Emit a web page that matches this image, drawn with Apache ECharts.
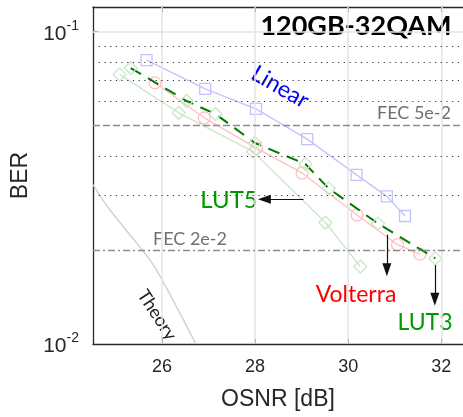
<!DOCTYPE html>
<html>
<head>
<meta charset="utf-8">
<script src="https://cdn.jsdelivr.net/npm/echarts@6.0.0/dist/echarts.min.js"></script>
<style>
html, body { margin: 0; padding: 0; background: #fff; }
#chart { width: 463px; height: 417px; }
</style>
</head>
<body>
<div id="chart"></div>
<script>
// OSNR [dB] and BER
const osnrLinear = [25.67, 26.93, 28.02, 29.12, 30.18, 30.83, 31.22];
const berLinear = [0.0811, 0.0656, 0.0566, 0.0453, 0.0348, 0.0297, 0.0257];

const osnrVolterra = [25.85, 26.91, 28.03, 29.01, 30.19, 31.06, 31.54];
const berVolterra = [0.0686, 0.0530, 0.0424, 0.0353, 0.0259, 0.0208, 0.0194];

const osnrLut5 = [25.09, 26.36, 27.96, 29.51, 30.26];
const berLut5 = [0.0730, 0.0550, 0.0413, 0.0245, 0.0177];

const osnrLut3 = [25.33, 26.53, 27.15, 28.00, 29.08, 29.58, 30.64, 31.87];
const berLut3 = [0.0765, 0.0600, 0.0545, 0.0440, 0.0377, 0.0315, 0.0243, 0.0188];

const osnrTheory = [24.52, 24.88, 25.58, 25.88, 26.73];
const berTheory = [0.0324, 0.0269, 0.0200, 0.0173, 0.0100];

// FEC thresholds and dotted grid values
const fecLimits = [0.05, 0.02];
const dottedGrid = [0.03, 0.04, 0.06, 0.07, 0.08, 0.09];
const xTicks = [26, 28, 30, 32];
const yTicks = [0.01, 0.1];

// annotation arrows [from, to] in data units
const arrowLut5 = [[29.04, 0.0291], [28.20, 0.0291]];
const arrowVolterra = [[30.83, 0.0224], [30.83, 0.0173]];
const arrowLut3 = [[31.86, 0.0179], [31.86, 0.0139]];

function pairs(xs, ys) {
  return xs.map((x, i) => [x, ys[i]]);
}

const axisColor = '#262626';
const labelFont = 'Lato';

let myChart = echarts.init(document.getElementById('chart'));

function lightSeries(name, xs, ys, color, symbol, size) {
  return {
    name: name,
    type: 'line',
    data: pairs(xs, ys),
    symbol: symbol,
    symbolSize: size,
    lineStyle: { color: color, width: 1.3 },
    itemStyle: { color: 'rgba(0,0,0,0)', borderColor: color, borderWidth: 1.3 },
    z: 3
  };
}

function arrow(a) {
  return [{ coord: a[0], symbol: 'none' }, { coord: a[1], symbol: 'triangle', symbolSize: [9, 13] }];
}

let option = {
  animation: false,
  backgroundColor: '#fff',
  grid: { left: 93, top: 7, width: 375, height: 337 },
  xAxis: [{
    type: 'value',
    min: 24.52,
    max: 32.465,
    name: 'OSNR [dB]',
    nameLocation: 'middle',
    nameGap: 44,
    nameTextStyle: { fontFamily: 'Liberation Sans', fontSize: 23, color: axisColor },
    axisLine: { lineStyle: { color: axisColor, width: 1.3 } },
    axisTick: { inside: true, length: 5, customValues: xTicks, lineStyle: { color: axisColor } },
    axisLabel: { customValues: xTicks, margin: 14, fontFamily: 'Liberation Sans', fontSize: 18, color: axisColor },
    splitLine: { show: false }
  }, {
    type: 'value',
    position: 'top',
    min: 24.52,
    max: 32.465,
    axisLine: { show: true, lineStyle: { color: axisColor, width: 1.3 } },
    axisTick: { show: true, inside: true, length: 5, customValues: xTicks, lineStyle: { color: axisColor } },
    axisLabel: { show: false },
    splitLine: { show: false }
  }],
  yAxis: {
    type: 'log',
    logBase: 10,
    min: 0.01,
    max: 0.12,
    name: 'BER',
    nameLocation: 'middle',
    nameGap: 57,
    nameTextStyle: { fontFamily: 'Liberation Sans', fontSize: 23, color: axisColor },
    axisLine: { show: true, lineStyle: { color: axisColor, width: 1.3 } },
    axisTick: { inside: true, length: 5, customValues: yTicks, lineStyle: { color: axisColor } },
    axisLabel: {
      customValues: yTicks,
      margin: 14,
      formatter: function (v) {
        return '{b|10}{s|' + Math.round(Math.log10(v)) + '}';
      },
      rich: {
        b: { fontFamily: 'Liberation Sans', fontSize: 21, color: axisColor, lineHeight: 26, verticalAlign: 'bottom' },
        s: { fontFamily: 'Liberation Sans', fontSize: 14, color: axisColor, lineHeight: 26, verticalAlign: 'top' }
      }
    },
    splitLine: { show: false }
  },
  series: [
    {
      // grid lines and thresholds
      name: 'grid',
      type: 'line',
      data: [],
      silent: true,
      z: 1,
      markLine: {
        silent: true,
        symbol: 'none',
        label: { show: false },
        data: [
          ...xTicks.map(v => ({ xAxis: v, lineStyle: { color: '#e4e4e4', width: 1.5, type: 'solid' } })),
          { yAxis: 0.1, lineStyle: { color: '#e4e4e4', width: 1.5, type: 'solid' } },
          ...dottedGrid.map(v => ({ yAxis: v, lineStyle: { color: '#333', width: 1, type: [1.2, 4.5] } })),
          { yAxis: fecLimits[0], lineStyle: { color: '#8c8c8c', width: 1.3, type: [7, 3] } },
          { yAxis: fecLimits[1], lineStyle: { color: '#8c8c8c', width: 1.3, type: [7, 3, 2, 3] } }
        ]
      }
    },
    {
      name: 'Theory',
      type: 'line',
      data: pairs(osnrTheory, berTheory),
      smooth: 0.3,
      showSymbol: false,
      lineStyle: { color: '#d3d3d3', width: 1.5 },
      z: 2
    },
    lightSeries('Linear', osnrLinear, berLinear, '#c3c3fb', 'rect', 11),
    lightSeries('Volterra', osnrVolterra, berVolterra, '#ffc0c0', 'circle', 12),
    lightSeries('LUT5', osnrLut5, berLut5, '#c9e6c9', 'diamond', 13),
    {
      name: 'LUT3',
      type: 'line',
      data: pairs(osnrLut3, berLut3),
      symbol: 'diamond',
      symbolSize: 13,
      lineStyle: { color: '#007a00', width: 2, type: [12, 8] },
      itemStyle: { color: 'rgba(0,0,0,0)', borderColor: '#c9e6c9', borderWidth: 1.3 },
      z: 4,
      markLine: {
        silent: true,
        symbol: ['none', 'triangle'],
        symbolSize: 12,
        symbolKeepAspect: true,
        label: { show: false },
        lineStyle: { color: '#111', width: 1.2, type: 'solid' },
        itemStyle: { color: '#111' },
        data: [arrow(arrowLut5), arrow(arrowVolterra), arrow(arrowLut3)]
      }
    }
  ],
  graphic: [
    { type: 'text', x: 356, y: 26, style: { text: '120GB-32QAM', font: 'bold 27px Lato', fill: '#000', align: 'center', verticalAlign: 'middle' } },
    { type: 'text', x: 280, y: 87, rotation: -30 * Math.PI / 180, style: { text: 'Linear', font: '23px ' + labelFont, fill: '#0000ff', align: 'center', verticalAlign: 'middle' } },
    { type: 'text', x: 414, y: 113, style: { text: 'FEC 5e-2', font: '18px ' + labelFont, fill: '#707070', align: 'center', verticalAlign: 'middle' } },
    { type: 'text', x: 190, y: 239, style: { text: 'FEC 2e-2', font: '18px ' + labelFont, fill: '#707070', align: 'center', verticalAlign: 'middle' } },
    { type: 'text', x: 229, y: 200, style: { text: 'LUT5', font: '24px ' + labelFont, fill: '#009900', align: 'center', verticalAlign: 'middle' } },
    { type: 'text', x: 356, y: 295, style: { text: 'Volterra', font: '23px ' + labelFont, fill: '#ff0000', align: 'center', verticalAlign: 'middle' } },
    { type: 'text', x: 425, y: 323, style: { text: 'LUT3', font: '23px ' + labelFont, fill: '#009900', align: 'center', verticalAlign: 'middle' } },
    { type: 'text', x: 157, y: 315, rotation: -57 * Math.PI / 180, style: { text: 'Theory', font: '18px ' + labelFont, fill: '#222', align: 'center', verticalAlign: 'middle' } }
  ]
};

myChart.setOption(option);
</script>
</body>
</html>
